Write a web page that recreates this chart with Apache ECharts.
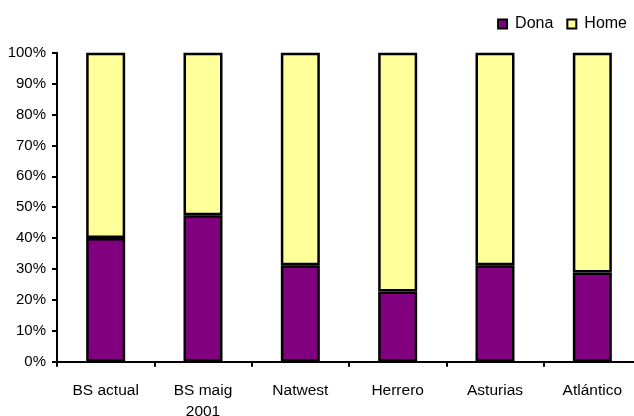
<!DOCTYPE html>
<html>
<head>
<meta charset="utf-8">
<script src="https://cdn.jsdelivr.net/npm/echarts@6/dist/echarts.min.js"></script>
<style>
html,body{margin:0;padding:0;background:#fff;}
#c{width:634px;height:416px;}
</style>
</head>
<body>
<div id="c"></div>
<script>
const categories = ['BS actual', 'BS maig\n2001', 'Natwest', 'Herrero', 'Asturias', 'Atlántico'];
const dona = [40, 47.4, 31.2, 22.7, 31.2, 28.9];
const home = [60, 52.6, 68.8, 77.3, 68.8, 71.1];
const yTicks = [0, 10, 20, 30, 40, 50, 60, 70, 80, 90, 100];

const font = 'Liberation Sans, Arial, sans-serif';
const chart = echarts.init(document.getElementById('c'), null, {renderer: 'canvas'});
chart.setOption({
  animation: false,
  backgroundColor: '#ffffff',
  textStyle: {fontFamily: font, color: '#000'},
  legend: {
    data: ['Dona', 'Home'],
    right: 7,
    top: 16,
    padding: 0,
    itemWidth: 9,
    itemHeight: 9,
    itemGap: 13,
    icon: 'rect',
    itemStyle: {borderColor: '#000', borderWidth: 2},
    textStyle: {fontFamily: font, fontSize: 16, color: '#000', padding: [0, 0, 0, 3]}
  },
  grid: {left: 57, right: -7, top: 52.7, bottom: 54.3, containLabel: false, outerBoundsMode: 'none'},
  xAxis: {
    type: 'category',
    data: categories,
    axisLine: {lineStyle: {color: '#000', width: 2}},
    axisTick: {show: true, length: 5, lineStyle: {color: '#000', width: 2}},
    axisLabel: {fontFamily: font, fontSize: 15.5, color: '#000', margin: 19, lineHeight: 21, interval: 0}
  },
  yAxis: {
    type: 'value',
    min: yTicks[0],
    max: yTicks[yTicks.length - 1],
    interval: 10,
    axisLine: {show: true, lineStyle: {color: '#000', width: 2}},
    axisTick: {show: true, length: 5, lineStyle: {color: '#000', width: 2}},
    splitLine: {show: false},
    axisLabel: {fontFamily: font, fontSize: 15, color: '#000', margin: 11, formatter: '{value}%'}
  },
  series: [
    {
      name: 'Dona', type: 'bar', stack: 'total', data: dona, barWidth: 39,
      itemStyle: {color: '#800080', borderColor: '#000', borderWidth: 2.5}
    },
    {
      name: 'Home', type: 'bar', stack: 'total', data: home, barWidth: 39,
      itemStyle: {color: '#FFFF99', borderColor: '#000', borderWidth: 2.5}
    }
  ]
});
</script>
</body>
</html>
